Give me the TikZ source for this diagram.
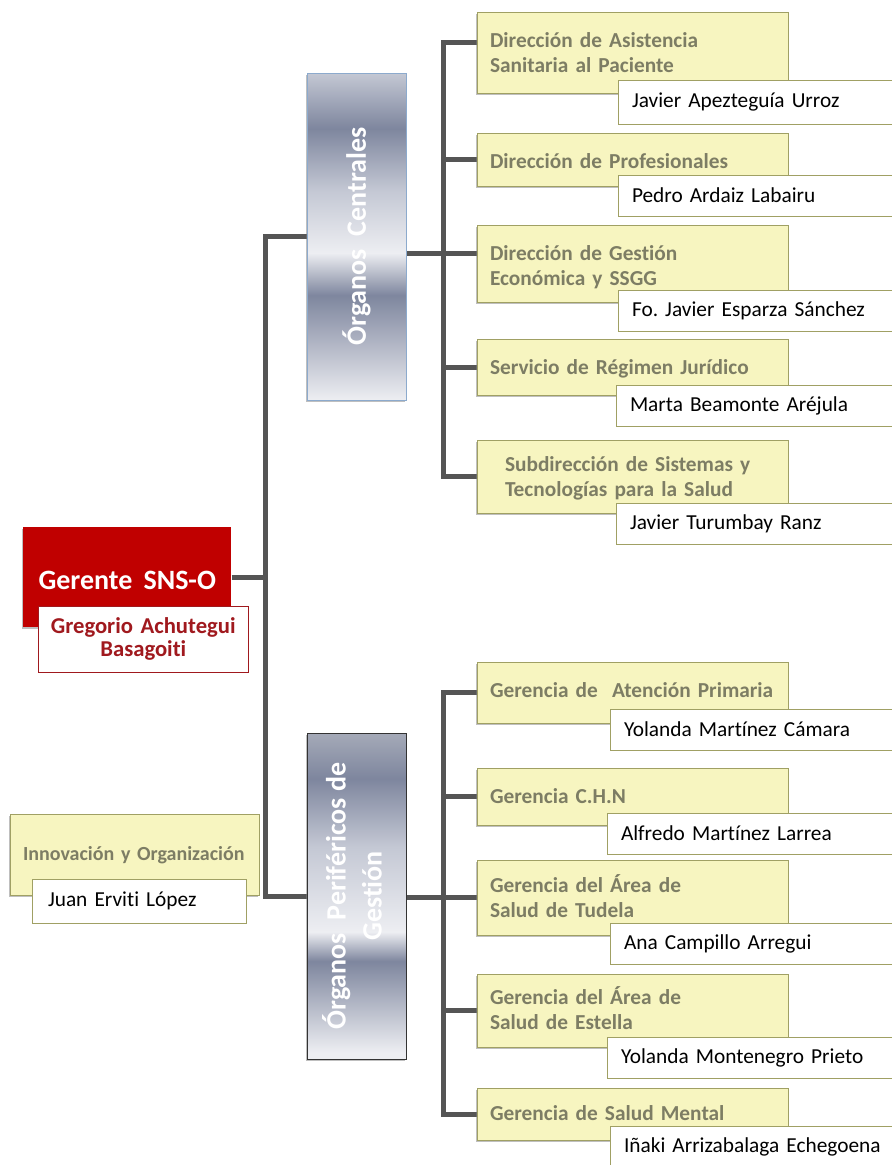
\documentclass[tikz,border=0pt]{standalone}
\usepackage{fontspec}
\setmainfont{Carlito}[Ligatures=NoCommon]
\usetikzlibrary{shadows,backgrounds}
\frenchspacing

\definecolor{yfill}{RGB}{247,245,192}
\definecolor{yborder}{RGB}{160,160,100}
\definecolor{ytext}{RGB}{125,125,100}
\definecolor{linegray}{RGB}{85,85,85}
\definecolor{gred}{RGB}{192,0,0}
\definecolor{gredtext}{RGB}{160,25,30}
\definecolor{oclight}{RGB}{237,238,242}
\definecolor{ocmid}{RGB}{196,200,212}
\definecolor{ocdark}{RGB}{126,134,158}
\definecolor{ocborder}{RGB}{140,170,205}
\definecolor{optop}{RGB}{165,170,184}

% bands of the two grey columns (0bp = bottom)
\pgfdeclareverticalshading{centrales}{100bp}{color(0bp)=(oclight); color(25bp)=(oclight); color(41bp)=(ocdark); color(47.5bp)=(oclight); color(57bp)=(ocmid); color(66.5bp)=(ocdark); color(75bp)=(ocmid); color(100bp)=(ocmid)}
\pgfdeclareverticalshading{perifericos}{100bp}{color(0bp)=(oclight); color(26bp)=(oclight); color(40bp)=(ocdark); color(44.5bp)=(oclight); color(57.5bp)=(ocmid); color(68bp)=(ocdark); color(75bp)=(optop); color(100bp)=(optop)}

\tikzset{
  ybox/.style={draw=yborder, fill=yfill, anchor=north west, align=left,
    text width=213.75pt, inner xsep=9.75pt, inner ysep=0pt, outer sep=0pt,
    text height=26.25pt, text=ytext, font=\bfseries\fontsize{16}{19}\selectfont,
    drop shadow={shadow xshift=-1pt, shadow yshift=-1.5pt, opacity=0.5}},
  namebox/.style={draw=yborder, fill=white, anchor=north west, align=left,
    text width=196.5pt, inner xsep=10.5pt, inner ysep=0pt, minimum height=30.75pt,
    outer sep=0pt, font=\fontsize{16}{19}\selectfont},
  organo/.style={shade, minimum width=74.25pt, minimum height=245.25pt,
    inner sep=0pt, outer sep=0pt, text=white, font=\bfseries\fontsize{21}{27}\selectfont,
    drop shadow={shadow xshift=-1pt, shadow yshift=-1.5pt, opacity=0.5}},
  conn/.style={draw=linegray, line width=3.75pt},
}

\begin{document}
\begin{tikzpicture}[x=0.75pt, y=-0.75pt]
    \useasboundingbox (0,0) rectangle (892,1165);

    % Gerente
    \node[fill=gred, anchor=north west, text=white, align=center, text width=156pt,
          inner sep=0pt, text height=46.5pt, text depth=28.5pt,
          font=\bfseries\fontsize{21}{24}\selectfont,
          drop shadow={shadow xshift=-1pt, shadow yshift=-1.5pt, opacity=0.5}]
          (ger) at (23,527) {Gerente\hspace{0.4em}SNS-O};
    \node[draw=gredtext, fill=white, anchor=north west, text=gredtext, align=center,
          text width=157.5pt, inner sep=0pt, minimum height=49.5pt,
          font=\bfseries\fontsize{17}{17.25}\selectfont]
          (gern) at (38,606) {Gregorio Achutegui\\Basagoiti};

    % Innovacion (not attached)
    \node[ybox, text width=167.25pt, text height=34.5pt, text depth=26.25pt,
          font=\bfseries\fontsize{15}{18}\selectfont] (inn) at (10,814) {Innovación y Organización};
    \node[namebox, text width=136.5pt, inner xsep=12pt, minimum height=33pt]
          (innn) at (32,879) {Juan Erviti López};

    % the two columns
    \node[organo, draw=ocborder, shading=centrales] (oc) at (356.5,236.5)
          {\rotatebox{90}{Órganos\ \ Centrales}};
    \node[organo, draw=black!80, shading=perifericos, minimum height=244.5pt] (op) at (356.5,896)
          {\rotatebox{90}{\begin{tabular}{@{}c@{}}Órganos\ \ Periféricos de\\Gestión\end{tabular}}};

    % Organos centrales
    \node[ybox, text depth=34.5pt] (b1) at (477,12) {Dirección de Asistencia\\Sanitaria al Paciente};
    \node[namebox, minimum height=33pt] (n1) at (618,80) {Javier Apezteguía Urroz};
    \node[ybox, text depth=13.5pt] (b2) at (477,133) {Dirección de Profesionales};
    \node[namebox] (n2) at (618,175) {Pedro Ardaiz Labairu};
    \node[ybox, text depth=31.5pt] (b3) at (477,225) {Dirección de Gestión\\Económica y SSGG};
    \node[namebox] (n3) at (618,290) {Fo. Javier Esparza Sánchez};
    \node[ybox, text depth=15.75pt] (b4) at (477,339) {Servicio de Régimen Jurídico};
    \node[namebox] (n4) at (616,385) {Marta Beamonte Aréjula};
    \node[ybox, text height=23.25pt, text depth=31.5pt, inner xsep=21pt, text width=191.25pt]
          (b5) at (477,440) {Subdirección de Sistemas y\\Tecnologías para la Salud};
    \node[namebox] (n5) at (616,503) {Javier Turumbay Ranz};

    % Organos perifericos
    \node[ybox, text depth=19.5pt] (b6) at (477,662) {Gerencia de\ \ Atención Primaria};
    \node[namebox] (n6) at (610,709) {Yolanda Martínez Cámara};
    \node[ybox, text depth=16.5pt] (b7) at (477,768) {Gerencia C.H.N};
    \node[namebox] (n7) at (607,813) {Alfredo Martínez Larrea};
    \node[ybox, text height=24pt, text depth=32.25pt] (b8) at (477,860) {Gerencia del Área de\\Salud de Tudela};
    \node[namebox] (n8) at (610,923) {Ana Campillo Arregui};
    \node[ybox, text height=22.5pt, text depth=32.25pt] (b9) at (477,974) {Gerencia del Área de\\Salud de Estella};
    \node[namebox] (n9) at (607,1037) {Yolanda Montenegro\ Prieto};
    \node[ybox, text height=24pt, text depth=15pt] (b10) at (477,1088) {Gerencia de Salud Mental};
    \node[namebox] (n10) at (610,1126) {Iñaki Arrizabalaga Echegoena};

    % Connectors
    \begin{scope}[on background layer]
        \draw[conn] (oc.west) -- ++(-42,0) coordinate (ltop) |- (op.west);
        \draw[conn] (ger.east) -- (ger.east -| ltop);

        \draw[conn] ([yshift=7.5pt]b1.west) -- ++(-34,0) coordinate (rtop) |- (b5.west);
        \foreach \b in {b2,b4}
            \draw[conn] (\b.west) -- (\b.west -| rtop);
        \draw[conn] ([yshift=7.5pt]b3.west -| oc.east) -- ([yshift=7.5pt]b3.west);

        \draw[conn] (b6.west) -- ++(-34,0) coordinate (rbot) |- (b10.west);
        \foreach \b in {b7,b9}
            \draw[conn] (\b.west) -- (\b.west -| rbot);
        \draw[conn] (b8.west -| op.east) -- (b8.west);
    \end{scope}
\end{tikzpicture}
\end{document}
